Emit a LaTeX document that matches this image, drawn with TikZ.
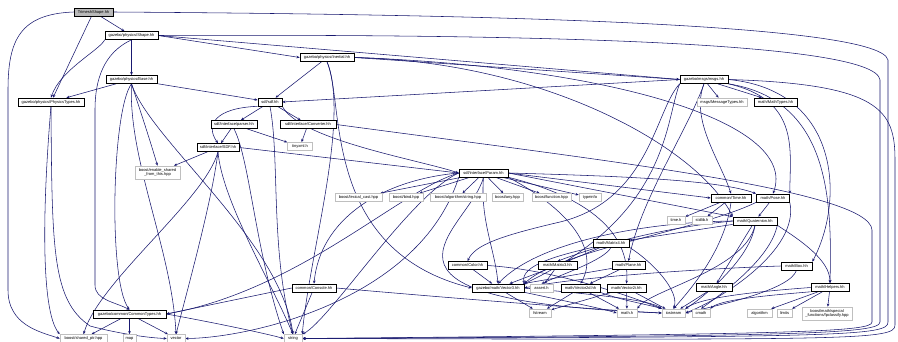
\documentclass[tikz,border=0pt]{standalone}
\usepackage{fontspec}
\setmainfont{Liberation Sans}
\usetikzlibrary{arrows.meta,backgrounds}
\definecolor{mblue}{RGB}{25,25,112}
\tikzset{
 docn/.style={rectangle, draw=black, line width=0.6pt, fill=white, inner sep=0pt, minimum height=8pt, font=\fontsize{4}{4.6}\selectfont, text=black, align=center},
 extn/.style={docn, draw=gray!50, line width=0.5pt},
 rootn/.style={docn, fill=gray!55},
 e/.style={draw=mblue, line width=0.55pt, -{Stealth[length=3.2pt,width=2.6pt]}},
}
\begin{document}
\begin{tikzpicture}[x=1pt,y=-1pt]
\useasboundingbox (0,0) rectangle (898,342);
% nodes
\node[rootn, minimum width=39pt] (trim) at (93.5,12) {TrimeshShape.hh};
\node[docn, minimum width=53pt] (shape) at (131.5,35.5) {gazebo/physics/Shape.hh};
\node[docn, minimum width=54pt] (inertial) at (327,57.5) {gazebo/physics/Inertial.hh};
\node[docn, minimum width=48pt] (msgs) at (704,79.5) {gazebo/msgs/msgs.hh};
\node[extn, minimum width=50pt] (msgtypes) at (722,102) {msgs/MessageTypes.hh};
\node[docn, minimum width=43pt] (mathtypes) at (775.5,102) {math/MathTypes.hh};
\node[docn, minimum width=51pt] (base) at (131.5,79.5) {gazebo/physics/Base.hh};
\node[docn, minimum width=66pt] (phys) at (51,102) {gazebo/physics/PhysicsTypes.hh};
\node[docn, minimum width=24pt] (sdf) at (270,102) {sdf/sdf.hh};
\node[docn, minimum width=46pt] (parser) at (234,124.5) {sdf/interface/parser.hh};
\node[docn, minimum width=56pt] (conv) at (308,124.5) {sdf/interface/Converter.hh};
\node[extn, minimum width=25pt] (tinyxml) at (300,146.5) {tinyxml.h};
\node[docn, minimum width=42pt] (SDF) at (218,147.5) {sdf/interface/SDF.hh};
\node[extn, minimum width=45pt, minimum height=13pt] (enable) at (157.5,172.5) {boost/enable\_shared\\\_from\_this.hpp};
\node[docn, minimum width=49pt] (param) at (483.5,173) {sdf/interface/Param.hh};
\node[extn, minimum width=47pt] (lexical) at (358.5,197.5) {boost/lexical\_cast.hpp};
\node[extn, minimum width=34pt] (bind) at (406,197.5) {boost/bind.hpp};
\node[extn, minimum width=56pt] (algo) at (458,197.5) {boost/algorithm/string.hpp};
\node[extn, minimum width=31pt] (any) at (507.5,197.5) {boost/any.hpp};
\node[extn, minimum width=39pt] (func) at (551.5,197.5) {boost/function.hpp};
\node[extn, minimum width=22pt] (typeinfo) at (590,197.5) {typeinfo};
\node[docn, minimum width=40pt] (time) at (731,198) {common/Time.hh};
\node[docn, minimum width=33pt] (pose) at (773,198) {math/Pose.hh};
\node[extn, minimum width=18pt] (timeh) at (676,220.5) {time.h};
\node[extn, minimum width=20pt] (stdlib) at (702,220.5) {stdlib.h};
\node[docn, minimum width=44pt] (quat) at (755,221) {math/Quaternion.hh};
\node[docn, minimum width=36pt] (mat4) at (611,243) {math/Matrix4.hh};
\node[docn, minimum width=39pt] (color) at (467.5,265.5) {common/Color.hh};
\node[docn, minimum width=39pt] (mat3) at (557.5,265.5) {math/Matrix3.hh};
\node[docn, minimum width=33pt] (plane) at (628.5,265.5) {math/Plane.hh};
\node[docn, minimum width=52pt] (vec3) at (498,288) {gazebo/math/Vector3.hh};
\node[extn, minimum width=23pt] (assert) at (541.5,288) {assert.h};
\node[docn, minimum width=39pt] (vec2d) at (580.5,288) {math/Vector2d.hh};
\node[docn, minimum width=39pt] (vec2i) at (626.5,288) {math/Vector2i.hh};
\node[extn, minimum width=22pt] (fstream) at (540,313) {fstream};
\node[extn, minimum width=20pt] (mathh) at (627,313) {math.h};
\node[extn, minimum width=23pt] (iostream) at (673.5,313) {iostream};
\node[extn, minimum width=18pt] (cmath) at (701,313) {cmath};
\node[extn, minimum width=25pt] (algorithm) at (759.5,313) {algorithm};
\node[extn, minimum width=15pt] (limits) at (784.5,313) {limits};
\node[extn, minimum width=50pt, minimum height=13pt] (fpclass) at (827,313.5) {boost/math/special\\\_functions/fpclassify.hpp};
\node[docn, minimum width=36pt] (angle) at (714,287.5) {math/Angle.hh};
\node[docn, minimum width=31pt] (box) at (796.5,266) {math/Box.hh};
\node[docn, minimum width=38pt] (helpers) at (830,287.5) {math/Helpers.hh};
\node[docn, minimum width=44pt] (console) at (314,288) {common/Console.hh};
\node[docn, minimum width=73pt] (ctypes) at (129.5,314) {gazebo/common/CommonTypes.hh};
\node[extn, minimum width=47pt] (sharedptr) at (83.5,338.5) {boost/shared\_ptr.hpp};
\node[extn, minimum width=13pt] (map) at (129.5,338.5) {map};
\node[extn, minimum width=18pt] (vector) at (176,338.5) {vector};
\node[extn, minimum width=18pt] (string) at (293,338.5) {string};
\begin{pgfonlayer}{background}
\fill[white] (0,0) rectangle (898,342);
% Trimesh
\draw[e] (trim) -- (shape);
\draw[e] (trim) -- (phys);
\draw[e] (trim.west) .. controls (20,14) and (8,40) .. (8,90) -- (8,290) .. controls (8,325) and (40,332) .. (sharedptr.west);
\draw[e] (trim.east) .. controls (400,14) and (880,20) .. (888,60) -- (888,322) .. controls (888,336) and (850,337) .. (string.east);
% Shape
\draw[e] (shape) -- (base);
\draw[e] (shape.south west) .. controls (100,50) and (60,70) .. (phys.north);
\draw[e] (shape.south) .. controls (110,50) and (95,70) .. (95,110) -- (95,285) .. controls (95,300) and (115,302) .. (ctypes.north);
\draw[e] (shape.east) -- (inertial.west);
\draw[e] (shape.east) -- (msgs.west);
\draw[e] (shape.east) .. controls (500,34) and (876,40) .. (880,80) -- (880,322) .. controls (880,334) and (800,336) .. (string.east);
% Base
\draw[e] (base) -- (phys);
\draw[e] (base) -- (sdf);
\draw[e] (base.south) .. controls (140,110) and (150,140) .. (enable.north);
\draw[e] (base.south) .. controls (112,110) and (108,280) .. (ctypes.north);
\draw[e] (base.south) .. controls (128,160) and (172,250) .. (vector.north);
\draw[e] (base.south) .. controls (150,140) and (280,240) .. (string.north);
% Inertial
\draw[e] (inertial) -- (sdf);
\draw[e] (inertial.east) -- (msgs.west);
\draw[e] (inertial.south) .. controls (345,100) and (320,250) .. (vec3.west);
\draw[e] (inertial.south) .. controls (350,120) and (310,250) .. (string.north east);
\draw[e] (inertial.east) .. controls (550,62) and (700,150) .. (quat.north west);
\draw[e] (inertial.east) .. controls (600,66) and (800,120) .. (pose.north);
% msgs
\draw[e] (msgs) -- (msgtypes);
\draw[e] (msgs) -- (mathtypes);
\draw[e] (msgs.west) -- (sdf.east);
\draw[e] (msgs.south west) .. controls (655,110) and (650,200) .. (560,222) .. controls (500,236) and (475,245) .. (color.north);
\draw[e] (msgs.south west) .. controls (665,120) and (670,215) .. (vec3.north east);
\draw[e] (msgs.south) .. controls (690,120) and (720,160) .. (time.north);
\draw[e] (msgs.south east) .. controls (800,100) and (790,150) .. (pose.north east);
\draw[e] (msgs.south) .. controls (688,130) and (640,200) .. (plane.north);
\draw[e] (msgs.east) .. controls (840,90) and (845,200) .. (box.north east);
\draw[e] (msgs.south east) .. controls (830,100) and (832,200) .. (helpers.north);
\draw[e] (msgs.east) .. controls (880,84) and (895,110) .. (895,160) -- (895,325) .. controls (895,340) and (860,340) .. (string.east);
% sdf
\draw[e] (sdf) -- (parser);
\draw[e] (sdf) -- (conv);
\draw[e] (sdf.south west) .. controls (215,108) and (205,125) .. (SDF.north);
\draw[e] (sdf.south) .. controls (280,160) and (270,250) .. (string.north);
\draw[e] (sdf.south east) .. controls (300,140) and (420,160) .. (param.west);
% parser / converter
\draw[e] (parser) -- (SDF);
\draw[e] (parser) -- (tinyxml);
\draw[e] (parser.south) .. controls (250,160) and (255,250) .. (string.north west);
\draw[e] (conv) -- (tinyxml);
\draw[e] (conv.east) .. controls (600,160) and (870,190) .. (872,230) -- (872,322) .. controls (872,332) and (800,334) .. (string.east);
% SDF
\draw[e] (SDF) -- (enable);
\draw[e] (SDF.east) -- (param.west);
\draw[e] (SDF.south) .. controls (212,200) and (190,280) .. (vector.north);
\draw[e] (SDF.south) .. controls (222,200) and (270,280) .. (string.north);
\draw[e] (SDF.south) .. controls (205,200) and (100,280) .. (sharedptr.north);
% Param
\draw[e] (param) -- (lexical);
\draw[e] (param) -- (bind);
\draw[e] (param) -- (algo);
\draw[e] (param) -- (any);
\draw[e] (param) -- (func);
\draw[e] (param) -- (typeinfo);
\draw[e] (param.east) -- (time.west);
\draw[e] (param.east) -- (quat.north west);
\draw[e] (param.east) .. controls (620,176) and (720,180) .. (pose.north west);
\draw[e] (param.south) .. controls (480,220) and (495,250) .. (vec3.north);
\draw[e] (param.south east) .. controls (600,200) and (630,240) .. (vec2i.north);
\draw[e] (param.south east) .. controls (570,210) and (600,250) .. (vec2d.north);
\draw[e] (param.west) .. controls (380,180) and (320,220) .. (console.north);
\draw[e] (param.west) .. controls (400,190) and (300,290) .. (ctypes.east);
\draw[e] (param.west) .. controls (410,195) and (330,320) .. (string.north east);
\draw[e] (param.south west) .. controls (420,300) and (250,338) .. (vector.east);
\draw[e] (param.south) .. controls (470,230) and (330,300) .. (iostream.west);
% Time / Pose / Quaternion
\draw[e] (time) -- (timeh);
\draw[e] (time) -- (stdlib);
\draw[e] (time.south) .. controls (725,250) and (690,290) .. (iostream.north);
\draw[e] (pose) -- (quat);
\draw[e] (pose.south west) .. controls (700,230) and (560,250) .. (vec3.north east);
\draw[e] (pose.south east) .. controls (800,250) and (720,300) .. (iostream.east);
\draw[e] (quat) -- (mat4);
\draw[e] (quat) -- (angle);
\draw[e] (quat.south east) .. controls (800,240) and (830,260) .. (helpers.north);
\draw[e] (quat.west) .. controls (650,222) and (540,240) .. (vec3.north);
\draw[e] (quat.west) .. controls (660,228) and (600,245) .. (mat3.north);
\draw[e] (quat.south) .. controls (750,260) and (700,300) .. (iostream.north east);
\draw[e] (quat.south) .. controls (745,270) and (650,290) .. (mathh.north east);
\draw[e] (quat.south east) .. controls (770,260) and (720,295) .. (cmath.north);
% Matrix4 / Color / Matrix3 / Plane
\draw[e] (mat4) -- (mat3);
\draw[e] (mat4.south west) .. controls (560,255) and (520,265) .. (vec3.north east);
\draw[e] (mat4.south) .. controls (605,260) and (560,275) .. (assert.north);
\draw[e] (mat4.south east) .. controls (650,260) and (680,290) .. (iostream.north);
\draw[e] (color) -- (vec3);
\draw[e] (color.east) .. controls (560,270) and (640,300) .. (iostream.north west);
\draw[e] (mat3) -- (vec3);
\draw[e] (mat3) -- (assert);
\draw[e] (plane) -- (vec3);
\draw[e] (plane) -- (vec2d);
% Vectors
\draw[e] (vec3) -- (fstream);
\draw[e] (vec3.south east) .. controls (560,300) and (600,308) .. (mathh.west);
\draw[e] (vec3.east) .. controls (600,295) and (650,300) .. (iostream.north west);
\draw[e] (vec2d) -- (fstream);
\draw[e] (vec2d) -- (mathh);
\draw[e] (vec2d.south east) .. controls (620,300) and (650,305) .. (iostream.north west);
\draw[e] (vec2i) -- (fstream);
\draw[e] (vec2i) -- (mathh);
\draw[e] (vec2i) -- (iostream);
% Angle / Box / Helpers
\draw[e] (angle) -- (iostream);
\draw[e] (box.west) .. controls (720,268) and (580,276) .. (vec3.east);
\draw[e] (box.south) .. controls (790,290) and (720,305) .. (iostream.east);
\draw[e] (helpers) -- (algorithm);
\draw[e] (helpers) -- (limits);
\draw[e] (helpers) -- (fpclass);
\draw[e] (helpers.south west) .. controls (760,296) and (720,300) .. (cmath.north east);
\draw[e] (helpers.west) .. controls (750,292) and (700,298) .. (iostream.north east);
% Console / CommonTypes / PhysicsTypes
\draw[e] (console.west) -- (ctypes.east);
\draw[e] (console) -- (string);
\draw[e] (console.east) .. controls (450,298) and (600,310) .. (iostream.west);
\draw[e] (ctypes) -- (sharedptr);
\draw[e] (ctypes) -- (map);
\draw[e] (ctypes) -- (vector);
\draw[e] (ctypes.east) .. controls (200,320) and (260,332) .. (string.west);
\draw[e] (phys.south) .. controls (43,200) and (40,310) .. (sharedptr.north west);
\draw[e] (phys.south) .. controls (52,250) and (52,300) .. (90,326) .. controls (120,334) and (150,338) .. (vector.west);
\end{pgfonlayer}
\end{tikzpicture}
\end{document}
